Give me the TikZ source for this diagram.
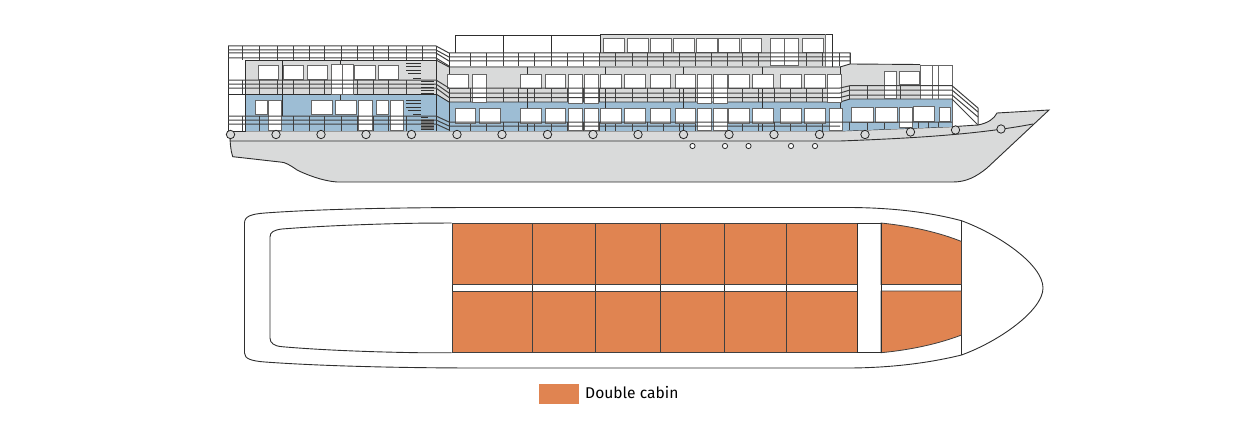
\documentclass[tikz,border=0pt]{standalone}
\usepackage{fontspec}
\setmainfont{Fira Sans}
\definecolor{hullgrey}{HTML}{D9DADA}
\definecolor{deckblue}{HTML}{9DBDD4}
\definecolor{cabinorange}{HTML}{E08451}
\tikzset{
	shipline/.style={line width=0.9pt, color=black!82},
	railbar/.style={line width=1pt, color=black!75},
	windowbox/.style={line width=0.9pt, draw=black!60, fill=white},
	porthole/.style={line width=0.8pt, draw=black!85, fill=hullgrey},
	cabinbox/.style={line width=0.8pt, draw=black!75, fill=cabinorange},
	stairbar/.style={line width=0.9pt, color=black!80},
}
\begin{document}
\begin{tikzpicture}[x=1pt, y=-1pt]
		%%%%% START %%%%%
		\useasboundingbox (0, 0) rectangle (1260, 428);
		
		% hull
		\draw[shipline, fill=hullgrey] (229, 131) -- (840, 131) -- (952, 126.7) -- (978, 125) .. controls (988, 123) and (994, 119) .. (997, 113) -- (1049, 110) -- (987, 168) .. controls (976, 177) and (966, 182) .. (953, 182) -- (337, 182) .. controls (322, 181) and (305, 174) .. (297, 170) .. controls (290, 165) and (285, 162) .. (280, 162) .. controls (262, 160) and (245, 158) .. (232.7, 156.7) .. controls (230.5, 150) and (230, 142) .. (230, 135) -- cycle;
		\draw[shipline] (230, 141) -- (840, 141) .. controls (920, 138) and (980, 134) .. (1033, 124);
		
		% deck colours
		\fill[hullgrey] (245, 60) rectangle (436, 94);
		\fill[deckblue] (245, 94) rectangle (436, 131);
		\fill[hullgrey] (436, 60) -- (449, 67) -- (449, 102) -- (436, 94) -- cycle;
		\fill[deckblue] (436, 94) -- (449, 102) -- (449, 131) -- (436, 131) -- cycle;
		\fill[white] (228, 60) rectangle (245, 131);
		\fill[hullgrey] (449, 66.5) rectangle (840, 102);
		\fill[deckblue] (449, 102) rectangle (840, 131);
		\fill[hullgrey] (600, 34.5) rectangle (825, 66.5);
		\fill[hullgrey] (840, 67) -- (850, 64) -- (920, 65) -- (920, 99) -- (850, 99) -- (840, 102) -- cycle;
		\fill[deckblue] (840, 102) -- (850, 99) -- (952, 99) -- (952, 126.7) -- (840, 131) -- cycle;
		
		% deck outlines
		\draw[shipline] (245, 60) -- (436, 60) -- (436, 131);
		\draw[shipline] (245, 60) -- (245, 131) -- (228, 131) -- (228, 46);
		\draw[shipline] (228, 94) -- (436, 94);
		\draw[shipline] (436, 60) -- (449, 67) -- (840, 67) -- (850, 64) -- (920, 64.5);
		\draw[shipline] (436, 94) -- (449, 102) -- (840, 102) -- (850, 99) -- (952, 99);
		\draw[shipline] (449, 53) -- (449, 131);
		\draw[shipline] (840, 67) -- (840, 131);
		\draw[shipline] (455, 53) -- (455, 35) -- (600, 35) -- (600, 53);
		\draw[shipline] (503, 35) -- (503, 53) (551, 35) -- (551, 53);
		\draw[shipline] (600, 34.5) -- (832, 34.5) -- (832, 67);
		\draw[shipline, color=black!55] (825, 34.5) -- (825, 67);
		\draw[shipline, color=black!60] (920, 65) -- (952, 65) -- (952, 126.7);
		\draw[shipline, color=black!60] (920, 65) -- (920, 99) (932, 65) -- (932, 99) (938, 65) -- (938, 99);
		\draw[shipline] (282, 60) -- (282, 116) (340, 60) -- (340, 66) (340, 94) -- (340, 100);
		\draw[shipline] (527.5, 67) -- (527.5, 131) (605, 67) -- (605, 131) (683, 67) -- (683, 131) (762, 67) -- (762, 131);
		
		% posts
		\draw[railbar] (242, 46) -- (242, 60) (259, 46) -- (259, 60) (277, 46) -- (277, 60) (293, 46) -- (293, 60) (309, 46) -- (309, 60) (324, 46) -- (324, 60) (341, 46) -- (341, 60) (357, 46) -- (357, 60) (373, 46) -- (373, 60) (388, 46) -- (388, 60) (406, 46) -- (406, 60) (422, 46) -- (422, 60) (436, 46) -- (436, 60);
		\draw[railbar] (242, 80) -- (242, 94) (259, 80) -- (259, 94) (277, 80) -- (277, 94) (293, 80) -- (293, 94) (309, 80) -- (309, 94) (324, 80) -- (324, 94) (341, 80) -- (341, 94) (357, 80) -- (357, 94) (373, 80) -- (373, 94) (388, 80) -- (388, 94) (406, 80) -- (406, 94);
		\draw[railbar] (242, 116) -- (242, 131) (259, 116) -- (259, 131) (277, 116) -- (277, 131) (293, 116) -- (293, 131) (309, 116) -- (309, 131) (324, 116) -- (324, 131) (341, 116) -- (341, 131) (357, 116) -- (357, 131) (373, 116) -- (373, 131) (388, 116) -- (388, 131) (406, 116) -- (406, 131);
		\draw[railbar] (470, 53) -- (470, 66) (486, 53) -- (486, 66) (503, 53) -- (503, 66) (518, 53) -- (518, 66) (534, 53) -- (534, 66) (551, 53) -- (551, 66) (567, 53) -- (567, 66) (583, 53) -- (583, 66) (599, 53) -- (599, 66) (615, 53) -- (615, 66) (632, 53) -- (632, 66) (647, 53) -- (647, 66) (663, 53) -- (663, 66) (679, 53) -- (679, 66) (695, 53) -- (695, 66) (711, 53) -- (711, 66) (727, 53) -- (727, 66) (742, 53) -- (742, 66) (758, 53) -- (758, 66) (774, 53) -- (774, 66) (790, 53) -- (790, 66) (806, 53) -- (806, 66) (822, 53) -- (822, 66) (839, 53) -- (839, 66) (850, 53) -- (850, 64);
		\draw[railbar] (470, 88) -- (470, 102) (486, 88) -- (486, 102) (503, 88) -- (503, 102) (518, 88) -- (518, 102) (534, 88) -- (534, 102) (551, 88) -- (551, 102) (567, 88) -- (567, 102) (583, 88) -- (583, 102) (599, 88) -- (599, 102) (615, 88) -- (615, 102) (632, 88) -- (632, 102) (647, 88) -- (647, 102) (663, 88) -- (663, 102) (679, 88) -- (679, 102) (695, 88) -- (695, 102) (711, 88) -- (711, 102) (727, 88) -- (727, 102) (742, 88) -- (742, 102) (758, 88) -- (758, 102) (774, 88) -- (774, 102) (790, 88) -- (790, 102) (806, 88) -- (806, 102) (822, 88) -- (822, 102);
		\draw[railbar] (470, 122) -- (470, 131) (486, 122) -- (486, 131) (503, 122) -- (503, 131) (518, 122) -- (518, 131) (534, 122) -- (534, 131) (551, 122) -- (551, 131) (567, 122) -- (567, 131) (583, 122) -- (583, 131) (599, 122) -- (599, 131) (615, 122) -- (615, 131) (632, 122) -- (632, 131) (647, 122) -- (647, 131) (663, 122) -- (663, 131) (679, 122) -- (679, 131) (695, 122) -- (695, 131) (711, 122) -- (711, 131) (727, 122) -- (727, 131) (742, 122) -- (742, 131) (758, 122) -- (758, 131) (774, 122) -- (774, 131) (790, 122) -- (790, 131) (806, 122) -- (806, 131) (822, 122) -- (822, 131);
		\draw[railbar] (849, 85.7) -- (849, 99) (867, 85.7) -- (867, 99) (884, 85.7) -- (884, 99) (900, 85.7) -- (900, 99) (849, 122) -- (849, 130) (867, 122) -- (867, 130) (884, 122) -- (884, 129) (918, 122) -- (918, 128) (928, 122) -- (928, 128) (938, 122) -- (938, 127);
		
		% windows, top deck
		\draw[windowbox] (603, 38) rectangle (624, 52);
		\draw[windowbox] (627, 38) rectangle (648, 52);
		\draw[windowbox] (650, 38) rectangle (671, 52);
		\draw[windowbox] (673, 38) rectangle (694, 52);
		\draw[windowbox] (696, 38) rectangle (717, 52);
		\draw[windowbox] (718, 38) rectangle (739, 52);
		\draw[windowbox] (741, 38) rectangle (761, 52);
		\draw[windowbox] (770, 38) rectangle (784, 65);
		\draw[windowbox] (784, 38) rectangle (798, 65);
		\draw[windowbox] (802, 38) rectangle (823, 52);
		
		% windows, middle deck
		\draw[windowbox] (258, 65) rectangle (278, 79.5);
		\draw[windowbox] (283, 65) rectangle (303, 79.5);
		\draw[windowbox] (307, 65) rectangle (327, 79.5);
		\draw[windowbox] (331, 64) rectangle (342, 94);
		\draw[windowbox] (342, 64) rectangle (353, 94);
		\draw[windowbox] (354, 65) rectangle (375, 79.5);
		\draw[windowbox] (378, 65) rectangle (398, 79.5);
		\draw[windowbox] (447, 74) rectangle (468, 88);
		\draw[windowbox] (472, 74) rectangle (486, 102);
		\draw[windowbox] (520, 74) rectangle (541, 88);
		\draw[windowbox] (545, 74) rectangle (565, 88);
		\draw[windowbox] (568, 74) rectangle (582, 103);
		\draw[windowbox] (584, 74) rectangle (598, 103);
		\draw[windowbox] (600, 74) rectangle (621, 88);
		\draw[windowbox] (624, 74) rectangle (645, 88);
		\draw[windowbox] (650, 74) rectangle (670, 88);
		\draw[windowbox] (675, 74) rectangle (695, 88);
		\draw[windowbox] (697, 74) rectangle (711, 103);
		\draw[windowbox] (713, 74) rectangle (727, 103);
		\draw[windowbox] (728, 74) rectangle (749, 88);
		\draw[windowbox] (752, 74) rectangle (773, 88);
		\draw[windowbox] (780, 74) rectangle (801, 88);
		\draw[windowbox] (804, 74) rectangle (825, 88);
		\draw[windowbox] (827, 74) rectangle (841, 102);
		\draw[windowbox] (884, 71) rectangle (896, 98);
		\draw[windowbox] (899, 71) rectangle (919, 84);
		
		% windows, lower deck
		\draw[windowbox] (255, 100) rectangle (267, 114);
		\draw[windowbox] (268, 100) rectangle (281, 130);
		\draw[windowbox] (311, 100) rectangle (332, 114);
		\draw[windowbox] (335, 100) rectangle (356, 114);
		\draw[windowbox] (358, 100) rectangle (372, 130);
		\draw[windowbox] (376, 100) rectangle (388, 114);
		\draw[windowbox] (390, 100) rectangle (403, 130);
		\draw[windowbox] (455, 108) rectangle (475, 123);
		\draw[windowbox] (479, 108) rectangle (500, 123);
		\draw[windowbox] (520, 108) rectangle (541, 123);
		\draw[windowbox] (545, 108) rectangle (565, 123);
		\draw[windowbox] (568, 108) rectangle (582, 130);
		\draw[windowbox] (584, 108) rectangle (598, 130);
		\draw[windowbox] (600, 108) rectangle (621, 123);
		\draw[windowbox] (624, 108) rectangle (645, 123);
		\draw[windowbox] (650, 108) rectangle (670, 123);
		\draw[windowbox] (675, 108) rectangle (695, 123);
		\draw[windowbox] (697, 108) rectangle (711, 130);
		\draw[windowbox] (713, 108) rectangle (727, 130);
		\draw[windowbox] (728, 108) rectangle (749, 123);
		\draw[windowbox] (752, 108) rectangle (773, 123);
		\draw[windowbox] (780, 108) rectangle (801, 123);
		\draw[windowbox] (804, 108) rectangle (825, 123);
		\draw[windowbox] (829, 108) rectangle (842, 130);
		\draw[windowbox] (851, 107) rectangle (873, 122);
		\draw[windowbox] (875, 107) rectangle (897, 122);
		\draw[windowbox] (899, 107) rectangle (912, 127);
		\draw[windowbox] (913, 106) rectangle (934, 121);
		\draw[windowbox] (939, 107) rectangle (950, 121);
		
		% rails
		\draw[railbar] (228, 46) -- (436, 46) -- (449, 53) -- (850, 53) -- (850, 64);
		\draw[railbar] (228, 50) -- (436, 50) -- (449, 57) -- (840, 57) -- (850, 57);
		\draw[railbar] (228, 53) -- (436, 53) -- (449, 61) -- (850, 61);
		\draw[railbar] (228, 58) -- (436, 58) -- (449, 66);
		\draw[railbar] (228, 80) -- (436, 80) -- (449, 88) -- (840, 88) -- (850, 85.7) -- (952, 85.7) -- (978, 108) -- (978, 125);
		\draw[railbar] (228, 84) -- (436, 84) -- (449, 93) -- (840, 93) -- (850, 90) -- (952, 90) -- (978, 112);
		\draw[railbar] (228, 88) -- (436, 88) -- (449, 97.5) -- (840, 97.5) -- (850, 95) -- (952, 95) -- (978, 117);
		\draw[railbar] (952, 99) -- (978, 125);
		\draw[railbar] (228, 116) -- (436, 116) -- (449, 122) -- (840, 122) -- (850, 122) -- (952, 122);
		\draw[railbar] (228, 120) -- (436, 120) -- (449, 126) -- (840, 126);
		\draw[railbar] (228, 124) -- (436, 124) -- (449, 130);
		
		% stairs
		\draw[stairbar] (406, 63) -- (421, 63) (406, 66.5) -- (421, 66.5) (406, 70) -- (421, 70) (408, 73.5) -- (421, 73.5) (413, 78) -- (421, 78);
		\draw[stairbar] (406, 100) -- (421, 100) (406, 103.5) -- (421, 103.5) (406, 107) -- (421, 107) (408, 110.5) -- (421, 110.5) (413, 114) -- (421, 114);
		\draw[stairbar] (421, 81) -- (434, 81) (421, 84) -- (434, 84) (421, 87) -- (434, 87) (421, 90) -- (434, 90) (421, 93) -- (434, 93);
		\fill[black!55] (421, 119) rectangle (434, 130);
		\draw[stairbar] (421, 117) -- (428, 117) (421, 120) -- (434, 120) (421, 123) -- (434, 123) (421, 126) -- (434, 126) (421, 129) -- (434, 129);
		
		% portholes
		\draw[porthole] (230.5, 134.5) circle (4.2);
		\draw[porthole] (276, 134.5) circle (4.2);
		\draw[porthole] (321, 134.5) circle (4.2);
		\draw[porthole] (366, 134.5) circle (4.2);
		\draw[porthole] (411.5, 134.5) circle (4.2);
		\draw[porthole] (457, 134.5) circle (4.2);
		\draw[porthole] (502, 134.5) circle (4.2);
		\draw[porthole] (547.5, 134.5) circle (4.2);
		\draw[porthole] (593, 134.5) circle (4.2);
		\draw[porthole] (638, 134.5) circle (4.2);
		\draw[porthole] (683.5, 134.5) circle (4.2);
		\draw[porthole] (729, 134.5) circle (4.2);
		\draw[porthole] (774, 134.5) circle (4.2);
		\draw[porthole] (819.5, 134.5) circle (4.2);
		\draw[porthole] (865, 134.5) circle (4.2);
		\draw[porthole] (910.5, 132) circle (4.2);
		\draw[porthole] (955.5, 130) circle (4.2);
		\draw[porthole] (1001, 129) circle (4.2);
		\draw[porthole, fill=white] (692.5, 146) circle (2.6);
		\draw[porthole, fill=white] (725, 146) circle (2.6);
		\draw[porthole, fill=white] (748.5, 146) circle (2.6);
		\draw[porthole, fill=white] (791, 146) circle (2.6);
		\draw[porthole, fill=white] (815, 146) circle (2.6);
		
		% plan outline
		\draw[shipline] (244.5, 223) .. controls (244.5, 216) and (252, 214) .. (265, 213) .. controls (320, 209) and (400, 207.5) .. (480, 207.5) -- (847, 207.5) .. controls (885, 207.5) and (925, 211) .. (961.5, 220.7) .. controls (1000, 235) and (1043, 265) .. (1043, 288) .. controls (1043, 310) and (1000, 341) .. (961.5, 355) .. controls (925, 364) and (885, 368) .. (847, 368) -- (480, 368) .. controls (400, 368) and (320, 366) .. (265, 362) .. controls (252, 361) and (244.5, 359) .. (244.5, 353) -- cycle;
		\draw[shipline] (451.7, 223) -- (418, 223.2) .. controls (370, 224) and (320, 226) .. (282, 229) .. controls (274, 230) and (270, 232) .. (270, 237) -- (270, 338) .. controls (270, 343) and (274, 346) .. (282, 346.7) .. controls (320, 350) and (370, 352) .. (418, 352.7) -- (451.7, 352.7);
		\draw[shipline] (961.5, 220.7) -- (961.5, 355);
		\draw[shipline] (857.7, 223) -- (881, 223) (857.7, 352.7) -- (881, 352.7);
		
		% cabins
		\draw[cabinbox] (452, 223) rectangle (532.3, 284.5);
		\draw[cabinbox] (532.3, 223) rectangle (595, 284.5);
		\draw[cabinbox] (595, 223) rectangle (660, 284.5);
		\draw[cabinbox] (660, 223) rectangle (724, 284.5);
		\draw[cabinbox] (724, 223) rectangle (786, 284.5);
		\draw[cabinbox] (786, 223) rectangle (857.7, 284.5);
		\draw[cabinbox] (452, 291) rectangle (532.3, 352.7);
		\draw[cabinbox] (532.3, 291) rectangle (595, 352.7);
		\draw[cabinbox] (595, 291) rectangle (660, 352.7);
		\draw[cabinbox] (660, 291) rectangle (724, 352.7);
		\draw[cabinbox] (724, 291) rectangle (786, 352.7);
		\draw[cabinbox] (786, 291) rectangle (857.7, 352.7);
		\draw[cabinbox] (881, 223) .. controls (910, 226) and (938, 232) .. (961.5, 241.5) -- (961.5, 284.5) -- (881, 284.5) -- cycle;
		\draw[cabinbox] (881, 352.7) .. controls (910, 350) and (938, 344) .. (961.5, 335) -- (961.5, 291) -- (881, 291) -- cycle;
		
		% corridor crossings
		\draw[shipline] (452, 284.5) -- (452, 291) (532.3, 284.5) -- (532.3, 291) (595, 284.5) -- (595, 291) (660, 284.5) -- (660, 291) (724, 284.5) -- (724, 291) (786, 284.5) -- (786, 291) (857.7, 223) -- (857.7, 352.7) (881, 223) -- (881, 352.7);
		
		% legend
		\node[fill=cabinorange, minimum width=40, minimum height=20, inner sep=0pt] (legendswatch) at (559, 394) {};
		\node[anchor=west, inner sep=0pt, font=\fontsize{15.6}{18}\selectfont] (legendlabel) at (585, 393) {Double cabin};
		
		%%%%% END %%%%%
	\end{tikzpicture}
\end{document}
